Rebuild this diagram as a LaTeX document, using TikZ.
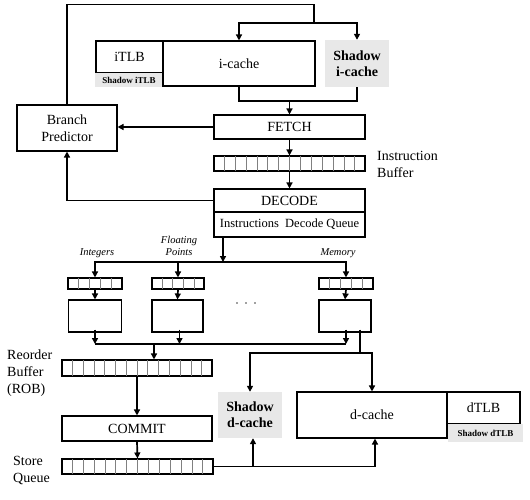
\documentclass[tikz,border=0pt]{standalone}
\usepackage{fontspec}
\setmainfont{Liberation Serif}
\usetikzlibrary{arrows.meta,positioning,calc}

\tikzset{
  box/.style={draw, line width=1.1pt, inner sep=0pt, align=center,
              font=\fontsize{14}{17}\selectfont},
  ghost/.style={fill=gray!18, inner sep=0pt, align=center,
                font=\bfseries\fontsize{14}{16}\selectfont},
  ghostsmall/.style={ghost, font=\bfseries\fontsize{9}{10}\selectfont},
  queue/.style={draw, line width=1.1pt, inner sep=0pt},
  cellline/.style={draw=gray, line width=0.6pt},
  wire/.style={line width=1.7pt},
  arr/.style={wire, -{Triangle[length=6pt,width=6pt]}},
  lbl/.style={align=left, inner sep=0pt, font=\fontsize{14}{17}\selectfont},
  kind/.style={align=center, inner sep=0pt, font=\itshape\fontsize{10.5}{12}\selectfont}
}

\begin{document}
\begin{tikzpicture}[x=1pt, y=-1pt]
        \useasboundingbox (0,0) rectangle (530,500);

        % front end
        \node[box, minimum width=67, minimum height=32] (itlb) at (129.5,57) {iTLB};
        \node[ghostsmall, minimum width=68, minimum height=14] (sitlb) at (129,80) {Shadow iTLB};
        \node[box, minimum width=152, minimum height=45] (icache) at (239,63.5) {i-cache};
        \node[ghost, minimum width=64, minimum height=47] (sicache) at (357,63.5) {Shadow\\i-cache};
        \node[box, minimum width=100, minimum height=46] (bp) at (67,128) {Branch\\Predictor};
        \node[box, minimum width=151, minimum height=24] (fetch) at (289.5,127) {FETCH};
        \node[queue, minimum width=151, minimum height=15] (ibuf) at (289.5,163.5) {};
        \node[lbl, anchor=west] (ibuflbl) at (377,164) {Instruction\\Buffer};
        \node[box, minimum width=151, minimum height=23] (decode) at (289.5,200.5) {DECODE};
        \node[box, minimum width=151, minimum height=25, font=\fontsize{12.5}{15}\selectfont]
              (idq) at (289.5,224.5) {Instructions\ \ Decode Queue};

        % issue queues and units
        \node[kind] (intlbl) at (97,253) {Integers};
        \node[kind] (fplbl) at (179,246) {Floating\\Points};
        \node[kind] (memlbl) at (338,253) {Memory};
        \node[queue, minimum width=53, minimum height=11] (qint) at (95,283.5) {};
        \node[queue, minimum width=52, minimum height=11] (qfp) at (178,283.5) {};
        \node[queue, minimum width=54, minimum height=11] (qmem) at (346,283.5) {};
        \node[box, minimum width=53, minimum height=32] (uint) at (95,316) {};
        \node[box, minimum width=51, minimum height=32] (ufp) at (177.5,316) {};
        \node[box, minimum width=52, minimum height=32] (umem) at (345,316) {};
        \foreach \x in {237,246,255}
                \fill[black!75] (\x,303) circle (0.9);

        % back end
        \node[queue, minimum width=150, minimum height=16] (rob) at (137,368) {};
        \node[lbl, anchor=west] (roblbl) at (7,373) {Reorder\\Buffer\\(ROB)};
        \node[box, minimum width=150, minimum height=25] (commit) at (137,428.5) {COMMIT};
        \node[queue, minimum width=151, minimum height=15] (sq) at (137.5,466.5) {};
        \node[lbl, anchor=west] (sqlbl) at (13,470) {Store\\Queue};
        \node[ghost, minimum width=64, minimum height=46] (sdcache) at (250,415) {Shadow\\d-cache};
        \node[box, minimum width=150, minimum height=46] (dcache) at (372,415) {d-cache};
        \node[box, minimum width=73, minimum height=32] (dtlb) at (483.5,408) {dTLB};
        \node[ghostsmall, minimum width=75, minimum height=18] (sdtlb) at (485.5,433) {Shadow dTLB};

        % cells of the queues
        \foreach \q/\n in {ibuf/14, rob/14, sq/14, qint/5, qfp/5, qmem/5} {
                \pgfmathtruncatemacro\m{\n-1}
                \foreach \i in {1,...,\m}
                        \draw[cellline] ($(\q.north west)!\i/\n!(\q.north east)$)
                                -- ($(\q.south west)!\i/\n!(\q.south east)$);
        }
        \foreach \q in {ibuf, rob, sq, qint, qfp, qmem}
                \draw[line width=1.1pt] (\q.north west) rectangle (\q.south east);

        % connectors
        \coordinate (isplit) at (314,23);
        \coordinate (fjoin) at (289.5,101);
        \coordinate (dsplit) at (223,262);
        \coordinate (rjoin) at (154,344);
        \coordinate (mjoin) at (360,353);

        \draw[wire] (bp.north) -- ++(0,-100) -| (isplit);
        \draw[arr] (isplit) -| (icache.north);
        \draw[arr] (isplit) -| (sicache.north);
        \draw[wire] (icache.south) |- (fjoin) -| (sicache.south);
        \draw[arr] (fjoin) -- (fetch.north);
        \draw[arr] (fetch.west) -- (fetch.west -| bp.east);
        \draw[arr] (fetch.south) -- (ibuf.north);
        \draw[arr] (ibuf.south) -- (decode.north);
        \draw[arr] (decode.west) -| (bp.south);

        \draw[arr] (idq.south -| dsplit) -- (dsplit);
        \draw[arr] (dsplit) -| (qint.north);
        \draw[arr] (dsplit) -| (qfp.north);
        \draw[arr] (dsplit) -| (qmem.north);
        \draw[arr] (qint.south) -- (uint.north);
        \draw[arr] (qfp.south) -- (ufp.north);
        \draw[arr] (qmem.south) -- (umem.north);

        \draw[wire] (uint.south |- rjoin) -- ([xshift=1pt]umem.south |- rjoin);
        \draw[arr] ([yshift=3pt]uint.south) -- (uint.south |- rjoin);
        \draw[arr] ([xshift=2pt,yshift=3pt]ufp.south) -- ([xshift=2pt]ufp.south |- rjoin);
        \draw[arr] ([xshift=1pt,yshift=3pt]umem.south) -- ([xshift=1pt]umem.south |- rjoin);
        \draw[arr] (rjoin) -- (rjoin |- rob.north);

        \draw[wire] ([yshift=3pt]umem.south -| mjoin) -- (mjoin);
        \draw[arr] (mjoin) -| (sdcache.north);
        \draw[arr] (mjoin) -| (dcache.north);

        \draw[arr] (rob.south) -- (commit.north);
        \draw[arr] (commit.south) -- (sq.north);
        \draw[arr] (sq.east) -| ([xshift=3pt]dcache.south);
        \draw[arr] (sq.east) -| ([xshift=3pt]sdcache.south);
\end{tikzpicture}
\end{document}
